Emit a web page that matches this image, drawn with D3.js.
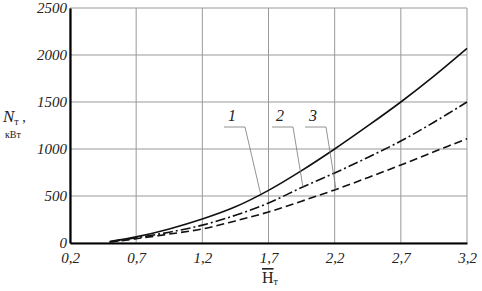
<!DOCTYPE html>
<html><head><meta charset="utf-8">
<script src="https://cdn.jsdelivr.net/npm/d3@7"></script>
<style>
body{margin:0;background:#fff;}
</style>
</head><body>
<svg id="chart" width="482" height="291"></svg>
<script>
const xTicks = [0.2, 0.7, 1.2, 1.7, 2.2, 2.7, 3.2];
const yTicks = [0, 500, 1000, 1500, 2000, 2500];
const xValues = [0.5, 0.7, 0.95, 1.2, 1.45, 1.7, 1.95, 2.2, 2.45, 2.7, 2.95, 3.2];
const curve1 = [15, 65, 150, 255, 385, 560, 770, 1000, 1245, 1500, 1775, 2070];
const curve2 = [12, 55, 115, 190, 295, 425, 590, 745, 910, 1085, 1285, 1500];
const curve3 = [10, 45, 95, 150, 235, 330, 445, 565, 695, 830, 970, 1110];
const seriesNames = ["1", "2", "3"];
const labelTargets = [[1.64, 525], [1.96, 598], [2.21, 568]];

const svg = d3.select("#chart");
const m = {l:70, r:15, t:8, b:48};
const W = 482, H = 291;
const x = d3.scaleLinear().domain([0.2, 3.2]).range([m.l, W - m.r]);
const y = d3.scaleLinear().domain([0, 2500]).range([H - m.b, m.t]);
const FONT = '"Liberation Serif","Times New Roman",Times,serif';

const g = svg.append("g");
g.selectAll(".vg").data(xTicks).join("line")
  .attr("x1", d => x(d)).attr("x2", d => x(d))
  .attr("y1", y(0)).attr("y2", y(2500))
  .attr("stroke", "#999").attr("stroke-width", 1);
g.selectAll(".hg").data(yTicks).join("line")
  .attr("x1", x(0.2)).attr("x2", x(3.2))
  .attr("y1", d => y(d)).attr("y2", d => y(d))
  .attr("stroke", "#999").attr("stroke-width", 1);

const xa = svg.append("g").attr("transform", `translate(0,${y(0)})`)
  .call(d3.axisBottom(x).tickValues(xTicks).tickSize(0).tickPadding(9)
    .tickFormat(d => d3.format(".1f")(d).replace(".", ",")));
const ya = svg.append("g").attr("transform", `translate(${x(0.2)},0)`)
  .call(d3.axisLeft(y).tickValues(yTicks).tickSize(0).tickPadding(3)
    .tickFormat(d => String(d)));
[xa, ya].forEach(a => {
  a.attr("font-family", FONT);
  a.select(".domain").attr("stroke", "#000").attr("stroke-width", 2.2);
  a.selectAll("text").attr("font-size", 15).attr("font-style", "italic")
    .attr("fill", "#222").attr("font-family", FONT);
});

const line = d3.line().x((d,i) => x(xValues[i])).y(d => y(d)).curve(d3.curveCatmullRom);
const styles = [null, "10,3,2,3", "8,4"];
[curve1, curve2, curve3].forEach((s, k) => {
  svg.append("path").datum(s).attr("d", line)
    .attr("fill", "none").attr("stroke", "#111").attr("stroke-width", 1.6)
    .attr("stroke-dasharray", styles[k]);
});

const labelPos = [[232, 117], [280, 117], [313, 117]];
seriesNames.forEach((n, k) => {
  const [lx, ly] = labelPos[k];
  const [tx, tv] = labelTargets[k];
  svg.append("polyline")
    .attr("points", `${lx-8},${ly+10} ${lx+13},${ly+10} ${x(tx)},${y(tv)}`)
    .attr("fill", "none").attr("stroke", "#777").attr("stroke-width", 0.8);
  svg.append("text").attr("x", lx).attr("y", ly + 4).attr("text-anchor", "middle")
    .attr("font-family", FONT)
    .attr("font-size", 16).attr("font-style", "italic").attr("fill", "#222").text(n);
});

const yt = svg.append("text").attr("x", 3).attr("y", 122).attr("fill", "#222").attr("font-family", FONT);
yt.append("tspan").attr("font-size", 17).attr("font-style", "italic").text("N");
yt.append("tspan").attr("font-size", 10).attr("dy", 3).text("т");
yt.append("tspan").attr("font-size", 14).attr("dy", -3).text(" ,");
svg.append("text").attr("x", 5).attr("y", 138).attr("font-size", 10).attr("fill", "#222")
  .attr("font-family", FONT).text("кВт");

const xt = svg.append("text").attr("x", 262).attr("y", 283).attr("fill", "#222").attr("font-family", FONT);
xt.append("tspan").attr("font-size", 16).style("text-decoration", "overline").text("H");
xt.append("tspan").attr("font-size", 10).attr("dy", 2).text("т");
</script>
</body></html>
